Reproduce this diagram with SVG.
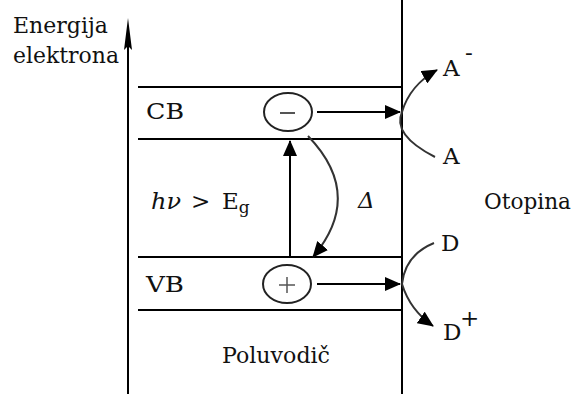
<svg xmlns="http://www.w3.org/2000/svg" width="576" height="394" viewBox="0 0 576 394">
<style>
.ln{stroke:#000;stroke-width:2;fill:none}
.cv{stroke:#333;stroke-width:2;fill:none}
text{font-family:"DejaVu Serif","Liberation Serif",serif;font-size:23px;fill:#111}
</style>
<defs>
<marker id="ah2" viewBox="0 0 16 14" refX="15" refY="7" markerWidth="16" markerHeight="14" orient="auto" markerUnits="userSpaceOnUse">
<path d="M0,0 L16,7 L0,14 z" fill="#000"/>
</marker>
</defs>
<rect width="576" height="394" fill="#fff"/>
<g id="axis">
<line class="ln" x1="128" y1="394" x2="128" y2="36"/>
<path d="M128,18 L132,50 L128,46 L124,50 z" fill="#000"/>
<text x="13" y="33" font-size="21" textLength="95" lengthAdjust="spacingAndGlyphs">Energija</text>
<text x="13" y="63" font-size="21" textLength="106" lengthAdjust="spacingAndGlyphs">elektrona</text>
</g>
<g id="surface">
<line class="ln" x1="402" y1="0" x2="402" y2="394"/>
</g>
<g id="CB">
<line class="ln" x1="138" y1="87" x2="402" y2="87"/>
<line class="ln" x1="138" y1="139" x2="402" y2="139"/>
<text x="146" y="119" textLength="38" lengthAdjust="spacingAndGlyphs">CB</text>
</g>
<g id="VB">
<line class="ln" x1="138" y1="257" x2="402" y2="257"/>
<line class="ln" x1="138" y1="310" x2="402" y2="310"/>
<text x="146" y="292" textLength="38" lengthAdjust="spacingAndGlyphs">VB</text>
</g>
<g id="electron">
<ellipse cx="288" cy="112" rx="24" ry="19" fill="none" stroke="#222" stroke-width="2"/>
<line x1="280" y1="113" x2="295" y2="113" stroke="#555" stroke-width="2"/>
</g>
<g id="hole">
<ellipse cx="287" cy="284" rx="24" ry="19" fill="none" stroke="#222" stroke-width="2"/>
<line x1="279" y1="285" x2="295" y2="285" stroke="#555" stroke-width="1.5"/>
<line x1="287" y1="277" x2="287" y2="293" stroke="#555" stroke-width="1.5"/>
</g>
<g id="labels">
<text x="151" y="209" font-style="italic" textLength="30" lengthAdjust="spacingAndGlyphs">hν</text>
<text x="191" y="209">&gt;</text>
<text x="222" y="209">E<tspan font-size="17" dy="4">g</tspan></text>
<text x="358" y="208" font-style="italic">Δ</text>
<text x="484" y="209" textLength="87" lengthAdjust="spacingAndGlyphs">Otopina</text>
<text x="222" y="363" textLength="108" lengthAdjust="spacingAndGlyphs">Poluvodič</text>
<text x="443" y="76">A</text>
<text x="465" y="60" font-size="16">-</text>
<text x="443" y="164">A</text>
<text x="441" y="251">D</text>
<text x="443" y="340">D</text>
<text x="460" y="326" font-size="18">+</text>
</g>
<g id="connectors">
<line class="ln" x1="317" y1="112" x2="400" y2="112" marker-end="url(#ah2)"/>
<line class="ln" x1="317" y1="284" x2="400" y2="284" marker-end="url(#ah2)"/>
<line class="ln" x1="290" y1="257" x2="290" y2="141" marker-end="url(#ah2)"/>
<path class="cv" d="M308,136 Q365,195 313,257" marker-end="url(#ah2)"/>
<path class="cv" d="M435,157 Q392,135 402,112 Q410,85 437,70" marker-end="url(#ah2)"/>
<path class="cv" d="M434,243 Q405,255 402,284 Q410,310 433,326" marker-end="url(#ah2)"/>
</g>
</svg>
